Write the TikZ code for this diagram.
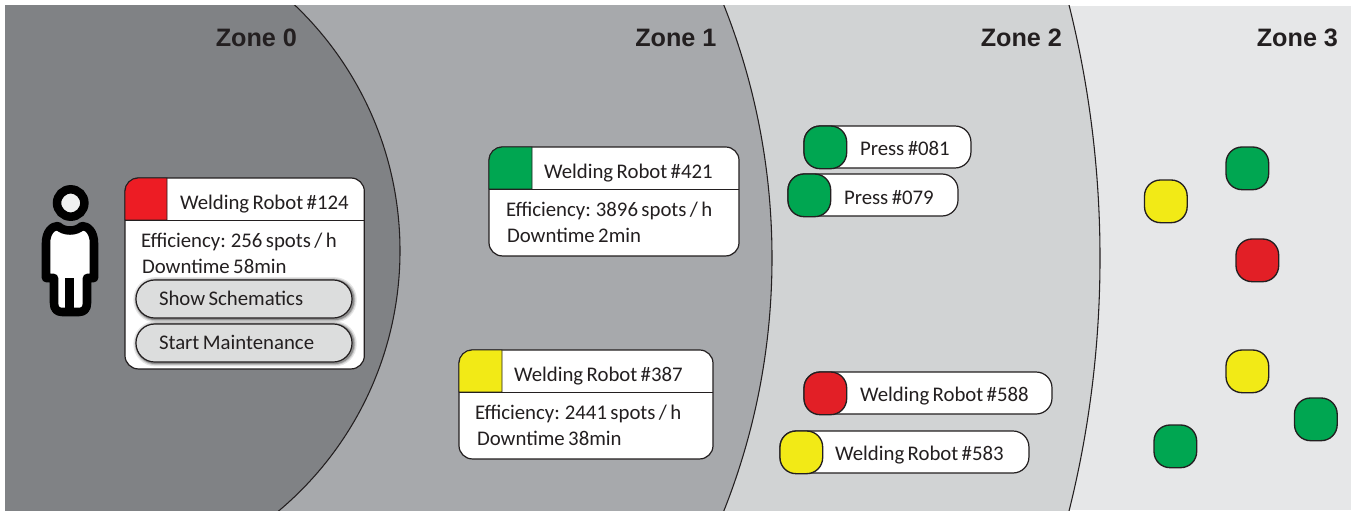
\documentclass[tikz,border=0pt]{standalone}
\usepackage{fontspec}
\setmainfont{Carlito}[WordSpace=0.72]
\newfontfamily\zonefont{Liberation Sans}[BoldFont={Liberation Sans Bold}]
\definecolor{zn0}{HTML}{808285}
\definecolor{zn1}{HTML}{A7A9AC}
\definecolor{zn2}{HTML}{D1D3D4}
\definecolor{zn3}{HTML}{E6E7E8}
\definecolor{ink}{HTML}{231F20}
\definecolor{stgreen}{HTML}{00A651}
\definecolor{stred}{HTML}{E21F26}
\definecolor{tabred}{HTML}{ED1C24}
\definecolor{styellow}{HTML}{F2EA16}
\definecolor{btnfill}{HTML}{DCDDDD}
\tikzset{
  every node/.style={inner sep=0pt,outer sep=0pt},
  zonearc/.style={draw=ink,line width=0.8pt},
  zonelabel/.style={anchor=base east,text=ink,font=\zonefont\bfseries\fontsize{18.9}{20}\selectfont},
  txt/.style={anchor=base west,text=ink,font=\fontsize{15.6}{17}\selectfont},
  card/.style={draw=ink,fill=white,line width=0.9pt,rounded corners=10pt,anchor=north west},
  pill/.style={card,rounded corners=12pt},
  lamp/.style={draw=ink,line width=1pt,rounded corners=12pt,anchor=north west,minimum width=32pt,minimum height=32pt},
  headrule/.style={draw=ink,line width=0.7pt},
  tab/.style={draw=ink,line width=0.7pt},
  btn/.style={draw=ink,fill=btnfill,line width=0.9pt,rounded corners=14pt,anchor=north west,minimum width=162pt,minimum height=28.5pt,
    preaction={draw=black,opacity=.10,line width=5.5pt,transform canvas={shift={(.8pt,-.6pt)}}},
    preaction={draw=black,opacity=.15,line width=3.5pt,transform canvas={shift={(.8pt,-.6pt)}}},
    preaction={draw=black,opacity=.25,line width=2pt,transform canvas={shift={(.8pt,-.6pt)}}}},
  figure/.style={draw=black,fill=white,line join=round}
}
\begin{document}
\begin{tikzpicture}[x=0.75pt,y=-0.75pt]
\useasboundingbox (0,0) rectangle (1351,510);
% zones
\begin{scope}
  \clip (5,6) rectangle (1351,510);
  \fill[zn3] (5,6) rectangle (1351,510);
  \path[fill=zn2,zonearc] (60,258) circle[radius=1040];
  \path[fill=zn1,zonearc] (86.5,258) circle[radius=685.5];
  \path[fill=zn0,zonearc] (60.5,250.8) circle[radius=339.5];
\end{scope}
\node[zonelabel] (z0) at (297,46) {Zone 0};
\node[zonelabel] (z1) at (716.5,46) {Zone 1};
\node[zonelabel] (z2) at (1062,46) {Zone 2};
\node[zonelabel] (z3) at (1338,46) {Zone 3};
% person
\path[figure,line width=6.4pt] (46,278) -- (46,243) .. controls (46,232) and (52,226) .. (58,226)
  .. controls (64,232) and (76,232) .. (82,226) .. controls (88,226) and (94,232) .. (94,243)
  -- (94,278) -- (87,278) -- (87,303) .. controls (87,309) and (84,312) .. (79,312)
  -- (62,312) .. controls (57,312) and (54,309) .. (54,303) -- (54,278) -- cycle;
\draw[black,line width=6.8pt] (69.5,278) -- (69.5,312);
\node[circle,draw=black,fill=zn3!60!white,line width=6.4pt,minimum size=20.5pt] (head) at (70.7,203) {};
% card 124
\node[card,minimum width=179.5pt,minimum height=143.2pt] (c124) at (125,178) {};
\draw[tab,fill=tabred] (125,220) -- (125,191) .. controls (125,184) and (131,178) .. (138,178) -- (167,178) -- (167,220) -- cycle;
\draw[headrule] (125,220) -- (364,220);
\node[txt] (t124) at (180,209) {Welding Robot \#124};
\node[txt] (e124) at (141,247) {Efficiency: 256 spots / h};
\node[txt] (d124) at (142,273) {Downtime 58min};
\node[btn] (b1) at (136,280) {};
\node[btn] (b2) at (136,324) {};
\node[txt] (b1t) at (159,305) {Show Schematics};
\node[txt] (b2t) at (159,349) {Start Maintenance};
% card 421
\node[card,minimum width=187.5pt,minimum height=81.7pt] (c421) at (489,147) {};
\draw[tab,fill=stgreen] (489,189) -- (489,160) .. controls (489,153) and (495,147) .. (502,147) -- (532,147) -- (532,189) -- cycle;
\draw[headrule] (489,189) -- (739,189);
\node[txt] (t421) at (544,178) {Welding Robot \#421};
\node[txt] (e421) at (506,216) {Efficiency: 3896 spots / h};
\node[txt] (d421) at (507,242) {Downtime 2min};
% card 387
\node[card,minimum width=190.5pt,minimum height=81.7pt] (c387) at (459,350) {};
\draw[tab,fill=styellow] (459,392) -- (459,363) .. controls (459,356) and (465,350) .. (472,350) -- (502,350) -- (502,392) -- cycle;
\draw[headrule] (459,392) -- (713,392);
\node[txt] (t387) at (514,381) {Welding Robot \#387};
\node[txt] (e387) at (475,419) {Efficiency: 2441 spots / h};
\node[txt] (d387) at (477,445) {Downtime 38min};
% pills
\node[pill,minimum width=125.2pt,minimum height=31.5pt] (p081) at (804,126) {};
\node[lamp,fill=stgreen] (l081) at (804,126) {};
\node[txt] (tp081) at (860,155) {Press \#081};
\node[pill,minimum width=127.5pt,minimum height=31.5pt] (p079) at (788,174) {};
\node[lamp,fill=stgreen] (l079) at (788,174) {};
\node[txt] (tp079) at (844,204) {Press \#079};
\node[pill,minimum width=186pt,minimum height=31.5pt] (p588) at (804,372) {};
\node[lamp,fill=stred] (l588) at (804,372) {};
\node[txt] (tp588) at (860,401) {Welding Robot \#588};
\node[pill,minimum width=186.7pt,minimum height=31.5pt] (p583) at (780,431) {};
\node[lamp,fill=styellow] (l583) at (780,431) {};
\node[txt] (tp583) at (835,460) {Welding Robot \#583};
% zone 3 lamps
\node[lamp,fill=stgreen] (s1) at (1226,147) {};
\node[lamp,fill=styellow] (s2) at (1144.5,180) {};
\node[lamp,fill=stred] (s3) at (1236,239) {};
\node[lamp,fill=styellow] (s4) at (1226,350) {};
\node[lamp,fill=stgreen] (s5) at (1294.5,398) {};
\node[lamp,fill=stgreen] (s6) at (1154,425) {};
\end{tikzpicture}
\end{document}
